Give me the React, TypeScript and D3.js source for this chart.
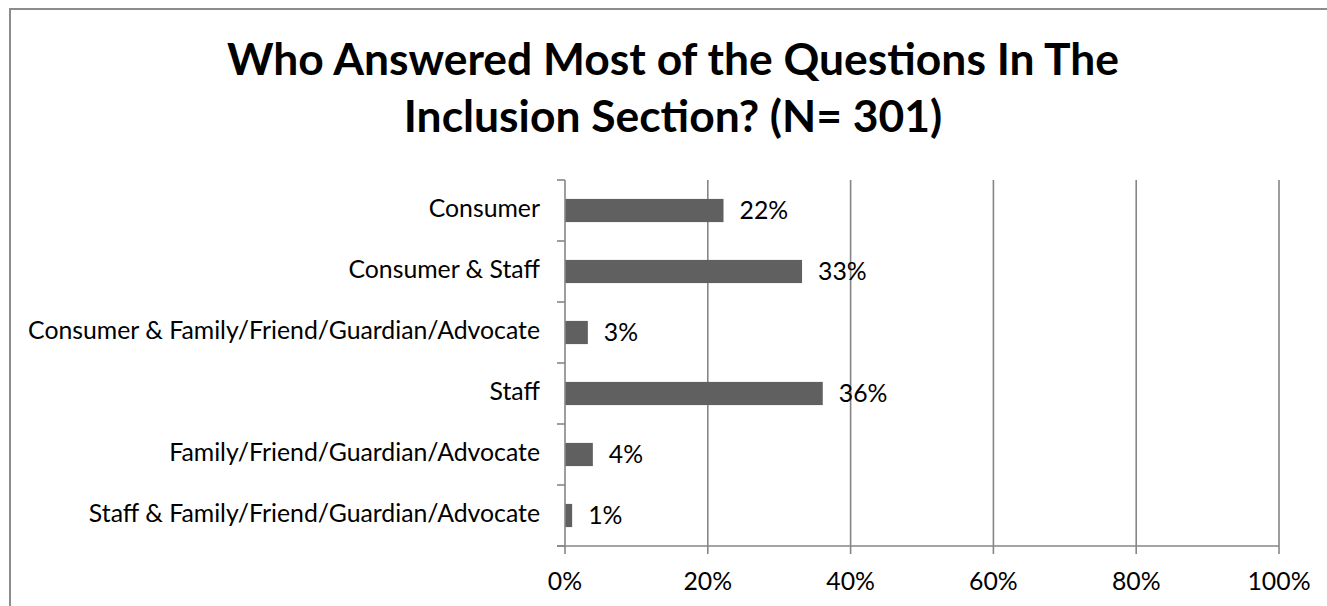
import React, { useEffect } from "react";
import * as d3 from "d3";

const categories = [
  "Consumer",
  "Consumer & Staff",
  "Consumer & Family/Friend/Guardian/Advocate",
  "Staff",
  "Family/Friend/Guardian/Advocate",
  "Staff & Family/Friend/Guardian/Advocate",
];
const values = [0.222, 0.332, 0.032, 0.361, 0.039, 0.01];
const valueLabels = ["22%", "33%", "3%", "36%", "4%", "1%"];
const xTicks = [0, 0.2, 0.4, 0.6, 0.8, 1.0];
const titleLines = [
  "Who Answered Most of the Questions In The",
  "Inclusion Section? (N= 301)",
];

const W = 1327;
const H = 606;
const FONT = "Lato, 'Open Sans', sans-serif";

export default function App() {
  useEffect(() => {
    document.documentElement.style.overflow = "hidden";
    document.body.style.margin = "0";
  }, []);

  const x = d3.scaleLinear().domain([0, 1]).range([565, 1279]);
  const y = d3
    .scaleBand<string>()
    .domain(categories)
    .range([180, 546])
    .paddingInner(0.62)
    .paddingOuter(0.31);
  const step = y.step();
  const top = 180;
  const bottom = 546;
  const boundaries = d3.range(categories.length + 1).map((i) => top + i * step);
  const grid = "#868686";
  const labelSize = 24.8;

  return (
    <svg
      width={W}
      height={H}
      style={{ position: "absolute", left: 0, top: 0, background: "#fff", display: "block" }}
      fontFamily={FONT}
    >
      <rect x={0} y={0} width={W} height={H} fill="#fff" />
      <path d={`M10,${H} V9 H${W}`} fill="none" stroke="#8c8c8c" strokeWidth={2} />

      {titleLines.map((t, i) => (
        <text
          key={i}
          x={673}
          y={75 + i * 57}
          textAnchor="middle"
          fontWeight="bold"
          fontSize={44.4}
          fill="#000"
        >
          {t}
        </text>
      ))}

      {/* vertical gridlines */}
      {xTicks.slice(1).map((t) => (
        <line key={t} x1={x(t)} x2={x(t)} y1={top} y2={bottom + 8} stroke={grid} strokeWidth={1.6} />
      ))}

      {/* bars */}
      {categories.map((c, i) => (
        <rect
          key={c}
          x={x(0)}
          y={y(c)!}
          width={x(values[i]) - x(0)}
          height={y.bandwidth()}
          fill="#606060"
        />
      ))}

      {/* y axis */}
      <line x1={x(0)} x2={x(0)} y1={top} y2={bottom + 8} stroke={grid} strokeWidth={1.6} />
      {boundaries.map((b, i) => (
        <line key={i} x1={x(0) - 8} x2={x(0)} y1={b} y2={b} stroke={grid} strokeWidth={1.6} />
      ))}
      {/* x axis */}
      <line x1={x(0) - 8} x2={x(1)} y1={bottom} y2={bottom} stroke={grid} strokeWidth={1.6} />

      {/* category labels */}
      {categories.map((c) => (
        <text
          key={c}
          x={540}
          y={y(c)! + y.bandwidth() / 2}
          dy="0.26em"
          textAnchor="end"
          fontSize={labelSize}
          fill="#000"
        >
          {c}
        </text>
      ))}

      {/* value labels */}
      {categories.map((c, i) => (
        <text
          key={c}
          x={x(values[i]) + 16}
          y={y(c)! + y.bandwidth() / 2}
          dy="0.36em"
          textAnchor="start"
          fontSize={labelSize}
          fill="#000"
        >
          {valueLabels[i]}
        </text>
      ))}

      {/* x tick labels */}
      {xTicks.map((t) => (
        <text key={t} x={x(t)} y={590} textAnchor="middle" fontSize={labelSize} fill="#000">
          {d3.format(".0%")(t)}
        </text>
      ))}
    </svg>
  );
}
